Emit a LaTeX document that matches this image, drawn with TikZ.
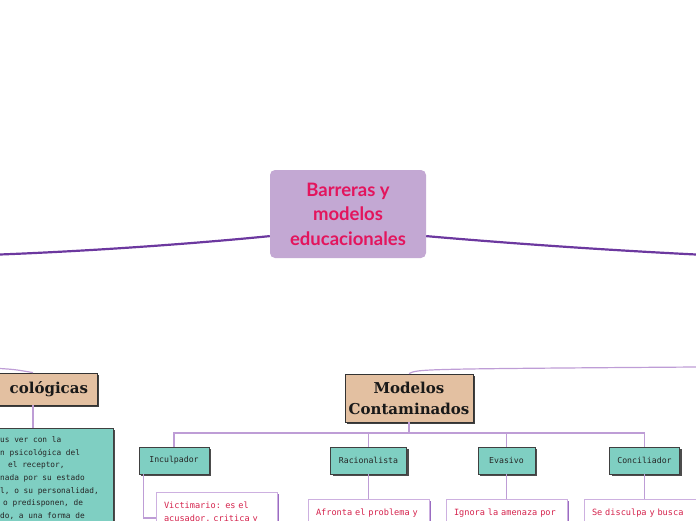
\documentclass[tikz,border=0pt]{standalone}
\usepackage{fontspec}
\setmainfont{Lato}
\newfontfamily\headfont{DejaVu Serif}
\newfontfamily\monof{DejaVu Sans Mono}
\usetikzlibrary{shadows,calc}
\definecolor{rootfill}{HTML}{C3A8D3}
\definecolor{roottext}{HTML}{E3155D}
\definecolor{mainln}{HTML}{6C389F}
\definecolor{subln}{HTML}{BE9DD6}
\definecolor{headfill}{HTML}{E3C0A1}
\definecolor{tealc}{HTML}{7FCFC2}
\definecolor{boxtext}{HTML}{D5224C}
\definecolor{wborder}{HTML}{CDB0E0}
\definecolor{wshadow}{HTML}{9A6CC2}
\begin{document}
\begin{tikzpicture}[x=1pt,y=-1pt,
  rootbox/.style={fill=rootfill, rounded corners=5pt, minimum width=156pt, minimum height=88pt,
    align=center, text=roottext, font=\fontsize{18.5}{24.5}\selectfont\bfseries},
  headbox/.style={draw=black!80, line width=0.8pt, fill=headfill,
    drop shadow={shadow xshift=2pt, shadow yshift=-2pt, fill=black!75, opacity=1},
    font=\headfont\bfseries\fontsize{15}{21}\selectfont, text=black!90},
  tealbox/.style={draw=black!75, line width=0.8pt, fill=tealc,
    drop shadow={shadow xshift=2pt, shadow yshift=-2pt, fill=black!70, opacity=1},
    minimum height=27pt, font=\monof\fontsize{8.2}{12}\selectfont, text=black!85},
  whitebox/.style={draw=wborder, line width=0.8pt, fill=white,
    drop shadow={shadow xshift=2pt, shadow yshift=-2pt, fill=wshadow, opacity=1},
    text width=105pt, align=left, inner xsep=8pt, inner ysep=10pt,
    font=\monof\fontsize{8.6}{13}\selectfont, text=boxtext},
  mainline/.style={draw=mainln, line width=2.2pt},
  subline/.style={draw=subln, line width=1.2pt}
]
\useasboundingbox (0,0) rectangle (696,520);
\clip (0,0) rectangle (696,520);

% root
\node[rootbox] (root) at (348,214) {Barreras y\\modelos\\educacionales};
\coordinate (lend) at (0,254.5);
\coordinate (rend) at (696,254.5);
\draw[mainline] ($(root.south west)!0.25!(root.north west)$) .. controls (190,244) and (90,251) .. (lend);
\draw[mainline] ($(root.south east)!0.25!(root.north east)$) .. controls (505,243) and (605,250) .. (rend);

% left heading
\node[headbox, minimum width=128pt, minimum height=32pt, text width=110pt, align=right] (psi) at (33,389) {cológicas};
\coordinate (lsub) at (0,368.5);
\draw[subline] (lsub) .. controls (15,369.5) .. (psi.north);
\node[tealbox, minimum width=160pt, minimum height=110pt, anchor=north] (desc) at (33,428) {};
\draw[subline] (psi.south) -- (desc.north);
\node[anchor=north west, inner sep=0pt, align=left, font=\monof\fontsize{7.8}{12.6}\selectfont, text=black!85] (desctext) at (0,436.5)
 {us ver con la\\n psicológica del\\\hspace*{8pt}el receptor,\\nada por su estado\\l, o su personalidad,\\\hspace*{3pt}o predisponen, de\\do, a una forma de};

% right heading
\node[headbox, minimum width=128pt, minimum height=48pt, align=center] (mod) at (409,398) {Modelos\\Contaminados};
\coordinate (rsub) at (696,367);
\draw[subline] (mod.north) .. controls (418,369) .. (rsub);

% children
\node[tealbox, minimum width=70pt] (inc) at (174,460.5) {Inculpador};
\node[tealbox, minimum width=76pt] (rac) at (368.5,460.5) {Racionalista};
\node[tealbox, minimum width=57pt] (eva) at (506.5,460.5) {Evasivo};
\node[tealbox, minimum width=70pt] (con) at (644.5,460.5) {Conciliador};

\coordinate (bus) at (409,433);
\draw[subline] (mod.south) -- (bus);
\draw[subline] (bus) -| (inc.north);
\draw[subline] (bus) -| (rac.north);
\draw[subline] (bus) -| (eva.north);
\draw[subline] (bus) -| (con.north);

% white boxes
\node[whitebox, anchor=north] (w1) at (216.5,492) {Victimario: es el\\acusador, critica y};
\node[whitebox, anchor=north] (w2) at (368.5,498.5) {Afronta el problema y};
\node[whitebox, anchor=north] (w3) at (506.5,498.5) {Ignora la amenaza por};
\node[whitebox, anchor=north] (w4) at (644.5,498.5) {Se disculpa y busca};

\coordinate (w1in) at ($(w1.north west)+(0,26)$);
\draw[subline] ($(inc.south west)+(4.5,0)$) |- (w1in);
\draw[subline] (rac.south) -- (w2.north);
\draw[subline] (eva.south) -- (w3.north);
\draw[subline] (con.south) -- (w4.north);
\end{tikzpicture}
\end{document}
